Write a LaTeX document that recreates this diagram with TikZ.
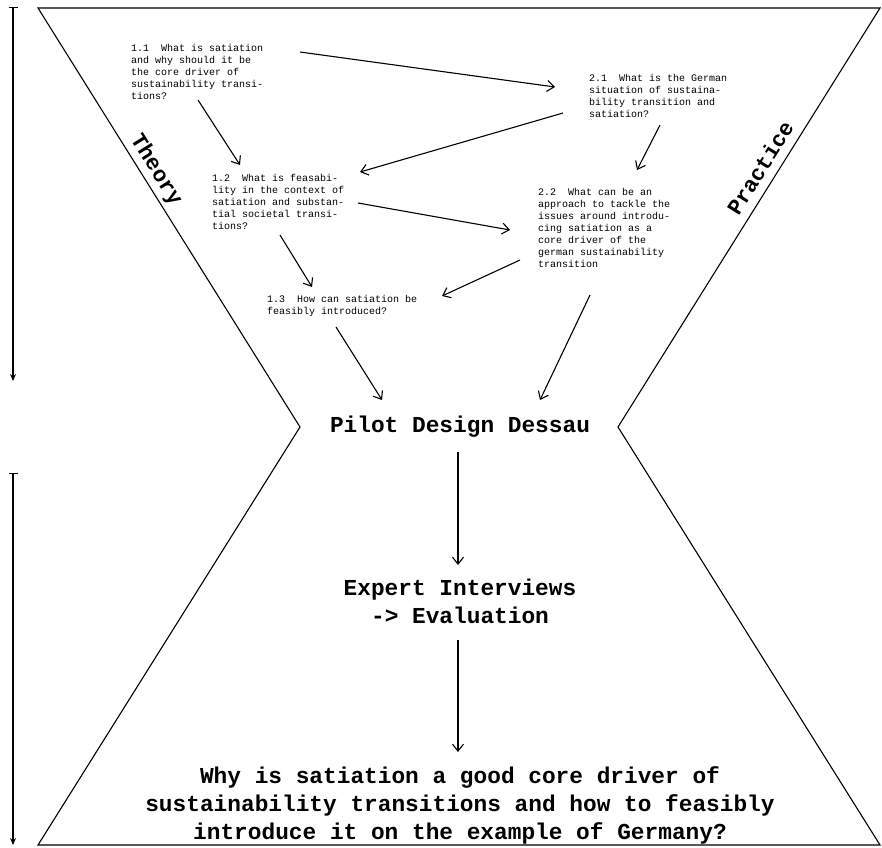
\documentclass[tikz,border=0pt]{standalone}
\usepackage{fontspec}
\setmonofont{Liberation Mono}
\usetikzlibrary{arrows.meta,calc}
\newcommand{\qlines}[1]{\begin{tabular}[t]{@{}l@{}}#1\end{tabular}}
\tikzset{
  q/.style={anchor=base west, inner sep=0pt, font=\ttfamily\fontsize{10}{12}\selectfont},
  big/.style={inner sep=0pt, align=center, font=\ttfamily\bfseries\fontsize{22.8}{28}\selectfont},
  side/.style={inner sep=0pt, font=\ttfamily\bfseries\fontsize{22}{26}\selectfont},
  arr/.style={-{Straight Barb[length=7pt,width=11pt]}, line width=1.1pt},
  timeline/.style={{Bar[width=9pt]}-{Stealth[length=7pt,width=6pt]}, line width=1.1pt}
}
\begin{document}
\begin{tikzpicture}[x=1pt,y=1pt]
\useasboundingbox (0,0) rectangle (882,-847);
% hourglass
\draw[line width=1.1pt, line join=miter] (38,-8) -- (880,-8) -- (618,-427) -- (880,-845) -- (38,-845) -- (300,-427) -- cycle;
% left time arrows
\coordinate (t1a) at (13,-7);
\coordinate (t1b) at (13,-381);
\coordinate (t2a) at (13,-473);
\coordinate (t2b) at (13,-845);
\draw[timeline] (t1a) -- (t1b);
\draw[timeline] (t2a) -- (t2b);
% side labels
\node[side, rotate=-58] (theory) at (156,-170) {Theory};
\node[side, rotate=58] (practice) at (760,-168) {Practice};
% question nodes
\node[q] (n11) at (131,-51) {\qlines{1.1\ \ What is satiation\\and why should it be\\the core driver of\\sustainability transi-\\tions?}};
\node[q] (n21) at (589,-81) {\qlines{2.1\ \ What is the German\\situation of sustaina-\\bility transition and\\satiation?}};
\node[q] (n12) at (212,-181) {\qlines{1.2\ \ What is feasabi-\\lity in the context of\\satiation and substan-\\tial societal transi-\\tions?}};
\node[q] (n22) at (538,-195) {\qlines{2.2\ \ What can be an\\approach to tackle the\\issues around introdu-\\cing satiation as a\\core driver of the\\german sustainability\\transition}};
\node[q] (n13) at (267,-302) {\qlines{1.3\ \ How can satiation be\\feasibly introduced?}};
\node[big] (pilot) at (460,-427) {Pilot Design Dessau};
\node[big] (expert) at (460,-601) {Expert Interviews\\-> Evaluation};
\node[big] (why) at (460,-805) {Why is satiation a good core driver of\\sustainability transitions and how to feasibly\\introduce it on the example of Germany?};
% connectors
\draw[arr] ($(n11.base west)+(169,-1)$) -- ($(n21.base west)+(-34,-6)$);
\draw[arr] ($(n11.base west)+(67,-49)$) -- ($(n12.base west)+(28,16)$);
\draw[arr] ($(n21.base west)+(-26,-32)$) -- ($(n12.base west)+(148,9)$);
\draw[arr] ($(n21.base west)+(71,-44)$) -- ($(n22.base west)+(99,25)$);
\draw[arr] ($(n12.base west)+(146,-22)$) -- ($(n22.base west)+(-28,-35)$);
\draw[arr] ($(n12.base west)+(68,-54)$) -- ($(n13.base west)+(45,15)$);
\draw[arr] ($(n22.base west)+(-18,-65)$) -- ($(n13.base west)+(175,6)$);
\draw[arr] ($(n13.base west)+(69,-25)$) -- ($(pilot.center)+(-78,27)$);
\draw[arr] ($(n22.base west)+(52,-100)$) -- ($(pilot.center)+(80,27)$);
\draw[arr] ($(pilot.center)+(-2,-25)$) -- ($(expert.center)+(-2,36)$);
\draw[arr] ($(expert.center)+(-2,-39)$) -- ($(why.center)+(-2,53)$);
\end{tikzpicture}
\end{document}
